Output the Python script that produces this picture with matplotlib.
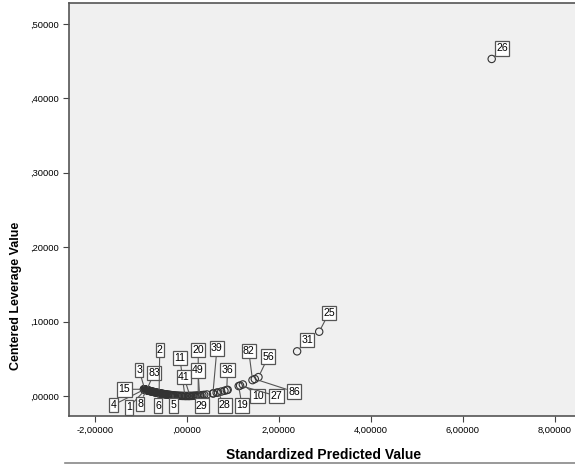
import matplotlib.pyplot as plt
from matplotlib.lines import Line2D
from matplotlib.path import Path

plt.rcParams['font.family'] = ['Liberation Sans', 'DejaVu Sans']

# labelled cases: case number, standardized predicted value, centered leverage
lab_case = ["4", "1", "8", "15", "3", "83", "2", "6", "5", "11", "41", "20", "49",
            "29", "39", "28", "36", "19", "10", "27", "82", "56", "86", "31", "25", "26"]
lab_pred = [-0.92, -0.90, -0.88, -0.93, -0.91, -0.87, -0.60, -0.62, -0.30, -0.04, 0.07, 0.25, 0.28,
            0.22, 0.57, 0.68, 0.87, 1.13, 1.22, 1.16, 1.43, 1.56, 1.48, 2.40, 2.88, 6.63]
lab_lev = [0.0088, 0.0084, 0.0081, 0.0090, 0.0086, 0.0079, 0.0038, 0.0040, 0.0009, 0.0000, 0.0001,
           0.0007, 0.0008, 0.0005, 0.0034, 0.0048, 0.0079, 0.0133, 0.0155, 0.0140, 0.0213, 0.0254,
           0.0228, 0.0600, 0.0864, 0.4530]

# remaining cases
pred_other = [-0.93, -0.92, -0.91, -0.89, -0.89, -0.88, -0.86, -0.85, -0.84, -0.83, -0.82, -0.81,
              -0.80, -0.79, -0.77, -0.76, -0.74, -0.73, -0.71, -0.70, -0.68, -0.67, -0.65, -0.64,
              -0.61, -0.58, -0.57, -0.55, -0.54, -0.52, -0.51, -0.49, -0.47, -0.46, -0.44, -0.42,
              -0.40, -0.38, -0.36, -0.34, -0.32, -0.28, -0.25, -0.22, -0.19, -0.16, -0.13, -0.10,
              -0.07, -0.01, 0.02, 0.05, 0.10, 0.13, 0.16, 0.19, 0.30, 0.34, 0.38, 0.44, 0.58,
              0.65, 0.75, 0.82, 0.89]
lev_other = [0.0090, 0.0088, 0.0086, 0.0083, 0.0083, 0.0081, 0.0077, 0.0075, 0.0074, 0.0072, 0.0070,
             0.0068, 0.0067, 0.0065, 0.0062, 0.0060, 0.0057, 0.0056, 0.0053, 0.0051, 0.0048, 0.0047,
             0.0044, 0.0043, 0.0039, 0.0035, 0.0034, 0.0032, 0.0030, 0.0028, 0.0027, 0.0025, 0.0023,
             0.0022, 0.0020, 0.0018, 0.0017, 0.0015, 0.0014, 0.0012, 0.0011, 0.0008, 0.0007, 0.0005,
             0.0004, 0.0003, 0.0002, 0.0001, 0.0001, 0.0000, 0.0000, 0.0000, 0.0001, 0.0002, 0.0003,
             0.0004, 0.0009, 0.0012, 0.0015, 0.0020, 0.0035, 0.0044, 0.0059, 0.0070, 0.0083]

x_ticks = [-2, 0, 2, 4, 6, 8]
y_ticks = [0.0, 0.1, 0.2, 0.3, 0.4, 0.5]

# label box offsets from the point, in pixels
box_offset = {
    "4": (-31, -15.5), "1": (-16.6, -17.7), "8": (-6.2, -14), "15": (-19.4, 0),
    "3": (-5.8, 19.6), "83": (7.3, 17.1), "2": (0.6, 43), "6": (0, -12.5),
    "5": (0.6, -10), "11": (-5, 38), "41": (-6, 19), "20": (0, 45.5),
    "49": (-1.6, 25), "29": (5, -10), "39": (4, 45), "28": (6.7, -13),
    "36": (0.8, 20), "19": (3.3, -19.4), "10": (14.7, -11.5), "27": (36.4, -10.4),
    "82": (-3.7, 29), "56": (9.8, 20.4), "86": (39.2, -12.7), "31": (10, 11.4),
    "25": (9.8, 18.7), "26": (10.3, 10.7),
}


def spss_fmt(v):
    s = f"{v:.5f}".replace(".", ",")
    if s.startswith("0,"):
        s = s[1:]
    elif s.startswith("-0,"):
        s = "-" + s[2:]
    return s


def label_box(x0, y0, width, height, mutation_size):
    # narrow at the sides, a bit taller above and below the digits
    px = 0.12 * mutation_size
    py = 0.22 * mutation_size
    x0, y0 = x0 - px, y0 - py
    x1, y1 = x0 + width + 2 * px, y0 + height + 2 * py
    return Path([(x0, y0), (x1, y0), (x1, y1), (x0, y1), (x0, y0)], closed=True)


fig = plt.figure(figsize=(5.75, 4.65), dpi=100)
ax = fig.add_axes([69 / 575, 49 / 465, 1 - 69 / 575, (416 - 3) / 465])
ax.set_facecolor("#f0f0f0")

mk = dict(marker="o", s=28, facecolors="none", edgecolors="#333333", linewidths=0.8, zorder=3)
ax.scatter(pred_other, lev_other, **mk)
ax.scatter(lab_pred, lab_lev, **mk)

for c, xv, yv in zip(lab_case, lab_pred, lab_lev):
    dx, dy = box_offset[c]
    ax.annotate(c, xy=(xv, yv), xytext=(dx, dy), textcoords="offset pixels",
                ha="center", va="center", fontsize=7.6, color="black", zorder=5,
                bbox=dict(boxstyle=label_box, fc="white", ec="#555555", lw=0.9),
                arrowprops=dict(arrowstyle="-", color="#555555", lw=0.8,
                                shrinkA=0, shrinkB=2.5))

ax.set_xlim(-2.559, 8.441)
ax.set_ylim(-0.0269, 0.5282)
ax.set_xticks(x_ticks)
ax.set_yticks(y_ticks)
ax.set_xticklabels([spss_fmt(v) for v in x_ticks])
ax.set_yticklabels([spss_fmt(v) for v in y_ticks])
ax.tick_params(direction="out", length=4.3, width=0.8, color="#444444",
               labelsize=6.7, pad=3)

for side in ["left", "bottom", "top"]:
    ax.spines[side].set_color("#555555")
    ax.spines[side].set_linewidth(1.2)
ax.spines["right"].set_visible(False)

fig.text(324 / 575, 1 - 455 / 465, "Standardized Predicted Value", ha="center", va="center",
         fontsize=10, fontweight="bold")
fig.text(16 / 575, 1 - 296 / 465, "Centered Leverage Value", ha="center", va="center",
         rotation=90, fontsize=9, fontweight="bold")

# separator rule under the chart
fig.add_artist(Line2D([65 / 575, 1.0], [1 - 463 / 465] * 2, color="#888888", lw=1.2))

fig.savefig("out.png", dpi=100)
